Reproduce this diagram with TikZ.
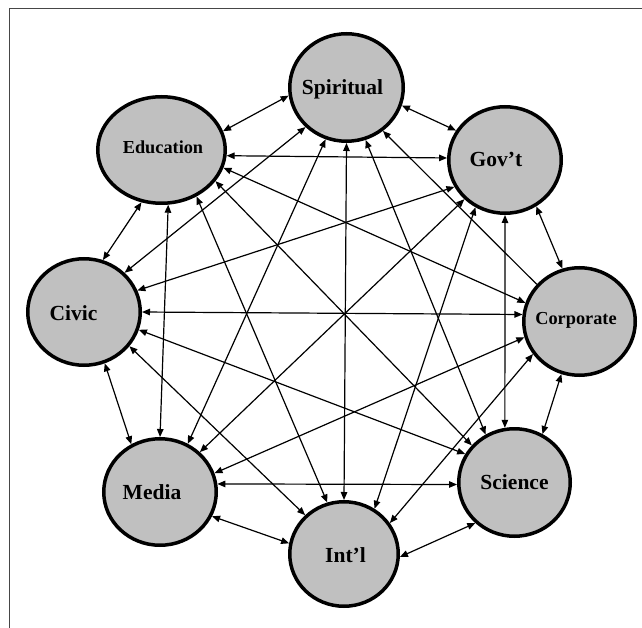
\documentclass[tikz,border=0pt]{standalone}
\usepackage{fontspec}
\setmainfont{Liberation Serif}
\usetikzlibrary{arrows.meta,shapes.geometric}
\definecolor{hubgray}{RGB}{192,192,192}
\definecolor{framegray}{RGB}{70,70,70}
\begin{document}
\begin{tikzpicture}[x=1pt,y=-1pt,
  hub/.style={ellipse,draw=black,line width=3.5pt,fill=hubgray,inner sep=0pt},
  lbl/.style={anchor=base,inner sep=0pt,text=black,font=\bfseries\fontsize{21.5}{24}\selectfont},
  lblsmall/.style={lbl,font=\bfseries\fontsize{18.3}{21}\selectfont},
  tip/.tip={Triangle[length=8pt,width=6.5pt]},
  link/.style={draw=black,line width=1.2pt,tip-tip},
  linkone/.style={draw=black,line width=1.2pt,tip-}]
\useasboundingbox (0,0) rectangle (642,628);
\fill[white] (0,0) rectangle (642,628);
\draw[framegray,line width=0.9pt] (9,628) -- (9,8) -- (642,8);

% hubs
\node[hub,minimum width=127.5pt,minimum height=106.5pt] (edu) at (161.5,150) {};
\node[hub,minimum width=113.5pt,minimum height=107.5pt] (spi) at (346.5,87.5) {};
\node[hub,minimum width=112.5pt,minimum height=106.5pt] (gov) at (505,160) {};
\node[hub,minimum width=111.5pt,minimum height=107.5pt] (cor) at (579.5,321.5) {};
\node[hub,minimum width=112.5pt,minimum height=106.5pt] (civ) at (84,312) {};
\node[hub,minimum width=112.5pt,minimum height=106.5pt] (med) at (160,492) {};
\node[hub,minimum width=108.5pt,minimum height=104.5pt] (int) at (344,554) {};
\node[hub,minimum width=111.5pt,minimum height=107.5pt] (sci) at (514.5,482.5) {};

% labels
\node[lbl] (spiT) at (342.5,95) {Spiritual};
\node[lblsmall] (eduT) at (163,154) {Education};
\node[lbl] (govT) at (496,167) {Gov’t};
\node[lblsmall] (corT) at (576,324) {Corporate};
\node[lbl] (civT) at (73.5,320) {Civic};
\node[lbl] (medT) at (152,499) {Media};
\node[lbl] (intT) at (345.5,562) {Int’l};
\node[lbl] (sciT) at (514.5,489) {Science};

% ring
\draw[link] (edu.17) -- (spi.188);
\draw[link] (spi.-18) -- (gov.149);
\draw[link] (gov.-56) -- (cor.108);
\draw[link] (cor.251) -- (sci.60);
\draw[link] (sci.226) -- (int.-3);
\draw[link] (int.169) -- (med.-25);
\draw[link] (med.121) -- (civ.-68);
\draw[link] (civ.70) -- (edu.-111);

% chords
\draw[link] (edu.-5) -- (gov.178);
\draw[link] (edu.-16) -- (cor.161);
\draw[link] (edu.-30) -- (sci.139);
\draw[link] (edu.-53) -- (int.108);
\draw[link] (edu.-83) -- (med.90);
\draw[link] (spi.224) -- (civ.44);
\draw[link] (spi.248) -- (med.60);
\draw[link] (spi.270) -- (int.90);
\draw[link] (spi.-70) -- (sci.121);
\draw[linkone] (spi.-50) -- (cor.139);
\draw[link] (gov.208) -- (civ.22);
\draw[link] (gov.224) -- (med.45);
\draw[link] (gov.238) -- (int.56);
\draw[link] (gov.270) -- (sci.100);
\draw[link] (cor.173) -- (civ.0);
\draw[link] (cor.196) -- (med.19);
\draw[link] (cor.215) -- (int.34);
\draw[link] (civ.-18) -- (sci.150);
\draw[link] (civ.-37) -- (int.135);
\draw[link] (med.8) -- (sci.182);
\end{tikzpicture}
\end{document}
